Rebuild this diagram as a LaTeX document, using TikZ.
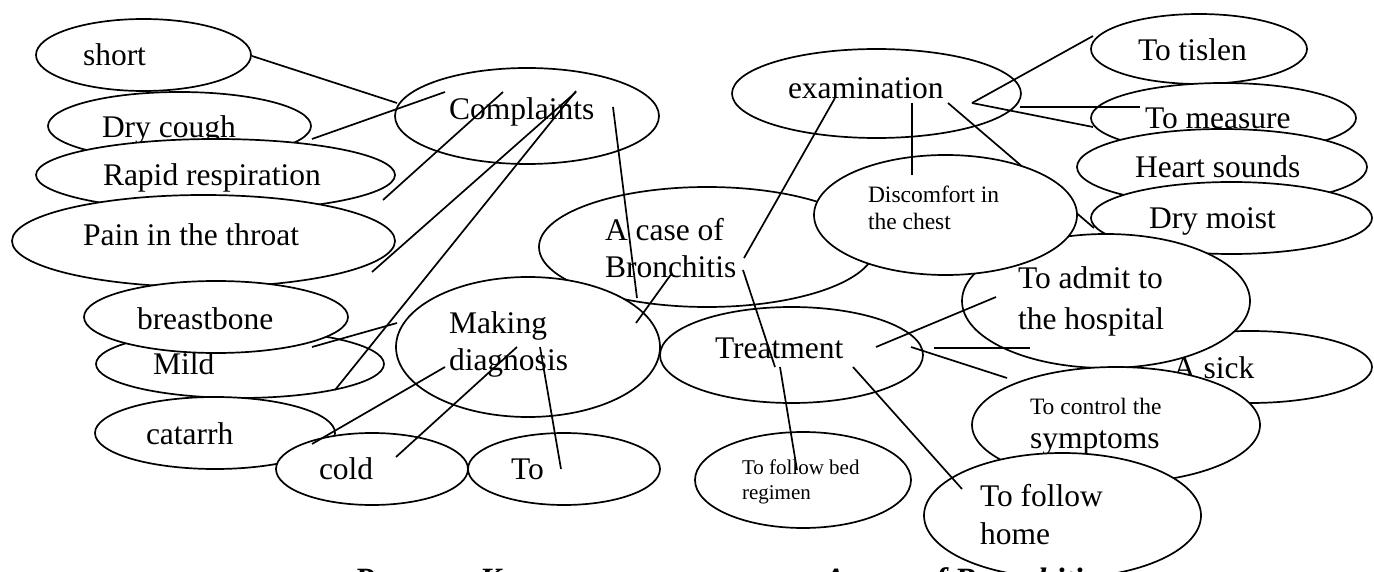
\documentclass[tikz,border=0pt]{standalone}
\usepackage{fontspec}
\setmainfont{Liberation Serif}
\usetikzlibrary{shapes.geometric}

\tikzset{
	bubble/.style={draw, ellipse, fill=white, line width=1.7pt, inner sep=0pt, outer sep=0pt},
	word/.style={anchor=base west, inner sep=0pt, outer sep=0pt},
	big/.style={font=\fontsize{31.5}{37}\selectfont},
	mid/.style={font=\fontsize{23.5}{27}\selectfont},
	tiny/.style={font=\fontsize{21}{25}\selectfont},
	link/.style={line width=1.7pt}
}

\newcommand{\bub}[5]{\node[bubble, minimum width=2*#4, minimum height=2*#5] (#1) at (#2,#3) {};}
\newcommand{\twolines}[3]{\vtop{\baselineskip=#1\lineskiplimit=-\maxdimen\hbox{#2}\hbox{#3}}}

\begin{document}
\begin{tikzpicture}[x=1pt, y=-1pt]

	\useasboundingbox (0,0) rectangle (1374,572);

	\foreach \name/\x/\y in {
		short1/252/56, cmpl1/397/103,
		dry1/312/139, cmpl2/445/92,
		rapid1/383/200, cmpl3/503/92,
		pain1/372/272, cmpl4/576/92,
		mild1/335/390, cmpl5/576/91,
		cmpl6/613/107, diag1/637/298,
		case1/672/273, diag2/636/323,
		bone1/312/347, diag3/397/323,
		cat1/312/444, diag4/445/367,
		cold1/396/457, diag5/517/347,
		to1/561/469, diag6/540/347,
		exam1/835/98, case2/744/258,
		case3/743/270, treat1/775/367,
		treat2/780/367, bed1/797/470,
		exam2/912/103, chest1/912/175,
		exam3/948/103, moist1/1094/228,
		exam4/972/103, tislen1/1093/36,
		measure1/1093/127,
		exam5/1020/107, measure2/1140/107,
		treat3/876/347, admit1/996/297,
		treat4/934/348, sick1/1030/348,
		treat5/911/347, control1/1007/378,
		treat6/853/367, home1/962/489
	}{\coordinate (\name) at (\x,\y);}

	\bub{short}{143.5}{55}{107.5}{36}
	\node[word, big] (shorttext) at (83,66) {short};
	\bub{drycough}{179.5}{126}{131.5}{34}
	\node[word, big] (drycoughtext) at (102,138) {Dry cough};
	\bub{rapid}{215.5}{175}{179.5}{36}
	\node[word, big] (rapidtext) at (103,186) {Rapid respiration};
	\bub{pain}{203.5}{241}{191.5}{46}
	\node[word, big] (paintext) at (83,246) {Pain in the throat};
	\bub{mild}{240}{364}{144}{34}
	\node[word, big] (mildtext) at (153,374) {Mild};
	\bub{bone}{216}{317}{132}{36}
	\node[word, big] (bonetext) at (137,329) {breastbone};
	\bub{catarrh}{215}{433}{120}{36}
	\node[word, big] (catarrhtext) at (146,444) {catarrh};
	\bub{cold}{372}{469}{96}{36}
	\node[word, big] (coldtext) at (319,479) {cold};
	\bub{to}{564}{469}{96}{36}
	\node[word, big] (totext) at (511,479) {To};

	\bub{complaints}{527}{116}{132}{48}
	\node[word, big] (complaintstext) at (449,120) {Complaints};
	\bub{case}{707}{247}{168}{60}
	\node[word, big] (casetext) at (605,241) {\twolines{37pt}{A case of}{Bronchitis}};
	\bub{diagnosis}{528}{347}{132}{70}
	\node[word, big] (diagnosistext) at (449,333) {\twolines{37pt}{Making}{diagnosis}};
	\bub{treatment}{791.5}{355}{131.5}{48}
	\node[word, big] (treatmenttext) at (715,358) {Treatment};

	\bub{exam}{876.5}{93.5}{144.5}{44.5}
	\node[word, big] (examtext) at (788,99) {examination};
	\bub{tislen}{1199}{49}{108}{35}
	\node[word, big] (tislentext) at (1138,61) {To tislen};
	\bub{measure}{1223.5}{118}{132.5}{35}
	\node[word, big] (measuretext) at (1145,129) {To measure};
	\bub{heart}{1222}{167}{145}{38}
	\node[word, big] (hearttext) at (1135,178) {Heart sounds};
	\bub{moist}{1231.5}{218}{140.5}{36}
	\node[word, big] (moisttext) at (1149,229) {Dry moist};
	\bub{sick}{1250}{367}{122}{36}
	\node[word, big] (sicktext) at (1173,378) {A sick};
	\bub{admit}{1106}{301}{144}{67}
	\node[word, big] (admittext) at (1018,288) {\twolines{41pt}{To admit to}{the hospital}};

	\draw[link] (exam3) -- (moist1);

	\bub{chest}{945.5}{215}{131.5}{60}
	\node[word, mid] (chesttext) at (868,203) {\twolines{27pt}{Discomfort in}{the chest}};
	\bub{control}{1116}{425}{144}{58}
	\node[word, big] (controltext) at (1030,414) {\twolines{34pt}{\fontsize{23.5}{27}\selectfont To control the}{symptoms}};
	\bub{home}{1062.5}{515.5}{138.5}{62.5}
	\node[word, big] (hometext) at (980,506) {\twolines{38pt}{To follow}{home}};
	\bub{bed}{803}{480}{108}{48}
	\node[word, tiny] (bedtext) at (742,474) {\twolines{25pt}{To follow bed}{regimen}};

	\foreach \from/\to in {short1/cmpl1, dry1/cmpl2, rapid1/cmpl3, pain1/cmpl4, mild1/cmpl5,
		cmpl6/diag1, case1/diag2, bone1/diag3, cat1/diag4, cold1/diag5, to1/diag6,
		exam1/case2, case3/treat1, treat2/bed1, exam2/chest1, exam4/tislen1, exam4/measure1,
		exam5/measure2, treat3/admit1, treat4/sick1, treat5/control1, treat6/home1}
		\draw[link] (\from) -- (\to);

	\node[word, font=\fontsize{32.5}{38}\selectfont\bfseries\itshape] (caption) at (354,590) {Рисунок Ключевые слова темы: A case of Bronchitis};

\end{tikzpicture}
\end{document}
